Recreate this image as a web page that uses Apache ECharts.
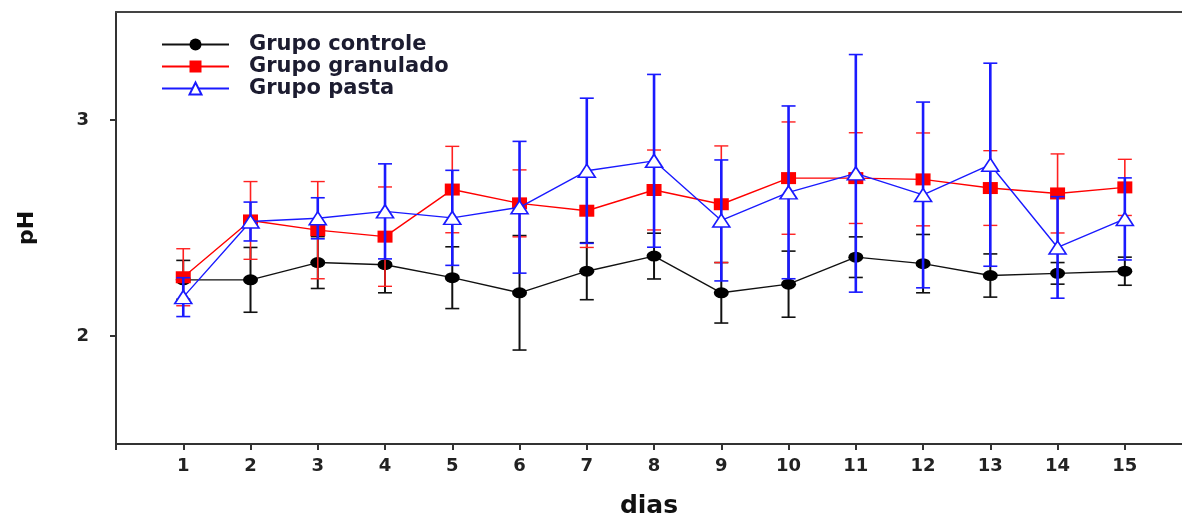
<!DOCTYPE html>
<html><head><meta charset="utf-8">
<script src="https://cdn.jsdelivr.net/npm/echarts@6/dist/echarts.min.js"></script>
<style>html,body{margin:0;padding:0;background:#fff}#c{width:1182px;height:514px}</style>
</head><body><div id="c"></div>
<script>
const days = [1,2,3,4,5,6,7,8,9,10,11,12,13,14,15];
const xTickValues = [0,1,2,3,4,5,6,7,8,9,10,11,12,13,14,15];
const xLabelValues = [1,2,3,4,5,6,7,8,9,10,11,12,13,14,15];
const yTickValues = [2,3];
const seriesNames = ['Grupo controle','Grupo granulado','Grupo pasta'];

const controleMean = [2.26,2.26,2.34,2.33,2.27,2.20,2.30,2.37,2.20,2.24,2.365,2.335,2.28,2.29,2.30];
const controleErr  = [0.09,0.15,0.12,0.13,0.143,0.265,0.132,0.106,0.14,0.153,0.094,0.135,0.10,0.05,0.065];
const granuladoMean = [2.272,2.535,2.49,2.46,2.678,2.614,2.58,2.676,2.61,2.731,2.731,2.725,2.685,2.66,2.688];
const granuladoErr  = [0.132,0.18,0.225,0.23,0.2,0.155,0.17,0.185,0.27,0.26,0.21,0.215,0.173,0.183,0.13];
const pastaMean = [2.18,2.53,2.545,2.577,2.547,2.596,2.765,2.811,2.535,2.665,2.753,2.653,2.793,2.41,2.542];
const pastaErr  = [0.09,0.09,0.095,0.22,0.22,0.305,0.336,0.4,0.28,0.4,0.55,0.43,0.47,0.235,0.19];

const chart = echarts.init(document.getElementById('c'));

function errSeries(name, mean, err, color, vWidth, hWidth, z) {
  return {
    type: 'custom', name: name + ' erro', z: z, silent: true,
    data: days.map((d, i) => [d, mean[i] - err[i], mean[i] + err[i]]),
    encode: { x: 0, y: [1, 2] },
    renderItem: function (params, api) {
      const x = api.value(0);
      const lo = api.coord([x, api.value(1)]);
      const hi = api.coord([x, api.value(2)]);
      const cw = 7;
      return { type: 'group', children: [
        { type: 'line', shape: { x1: lo[0], y1: lo[1], x2: hi[0], y2: hi[1] }, style: { stroke: color, lineWidth: vWidth } },
        { type: 'line', shape: { x1: lo[0] - cw, y1: lo[1], x2: lo[0] + cw, y2: lo[1] }, style: { stroke: color, lineWidth: hWidth } },
        { type: 'line', shape: { x1: hi[0] - cw, y1: hi[1], x2: hi[0] + cw, y2: hi[1] }, style: { stroke: color, lineWidth: hWidth } }
      ]};
    }
  };
}

function lineSeries(name, mean, color, symbol, size, fill, z) {
  return {
    type: 'line', name: name, z: z,
    data: days.map((d, i) => [d, mean[i]]),
    symbol: symbol, symbolSize: size, showAllSymbol: true,
    lineStyle: { color: color, width: 1.4 },
    itemStyle: { color: fill, borderColor: color, borderWidth: fill === '#ffffff' ? 1.6 : 0, opacity: 1 },
    emphasis: { disabled: true },
    animation: false
  };
}

const option = {
  animation: false,
  backgroundColor: '#ffffff',
  grid: { left: 116, right: 0, top: 12, bottom: 70, containLabel: false, outerBoundsMode: 'none' },
  legend: {
    data: seriesNames,
    orient: 'vertical', left: 161, top: 34, padding: 0,
    itemWidth: 67, itemHeight: 15, itemGap: 1,
    textStyle: { fontFamily: 'DejaVu Sans', fontWeight: 'bold', fontSize: 21, lineHeight: 16, color: '#1c1c30', padding: [0, 0, 0, 15] },
    selectedMode: false
  },
  xAxis: [{
    type: 'value', min: 0, max: 15.85, position: 'bottom',
    axisLine: { show: true, onZero: false, lineStyle: { color: '#333', width: 2 } },
    axisTick: { show: true, customValues: xTickValues, length: 6, lineStyle: { color: '#333', width: 2 } },
    axisLabel: { customValues: xLabelValues, margin: 13, fontFamily: 'DejaVu Sans', fontWeight: 'bold', fontSize: 18, color: '#222' },
    splitLine: { show: false },
    name: 'dias', nameLocation: 'middle', nameGap: 50,
    nameTextStyle: { fontFamily: 'DejaVu Sans', fontWeight: 'bold', fontSize: 25, color: '#111' }
  }, {
    type: 'value', min: 0, max: 15.85, position: 'top',
    axisLine: { show: true, onZero: false, lineStyle: { color: '#444', width: 2 } },
    axisTick: { show: false }, axisLabel: { show: false }, splitLine: { show: false }
  }],
  yAxis: {
    type: 'value', min: 1.5, max: 3.5,
    axisLine: { show: true, onZero: false, lineStyle: { color: '#333', width: 2 } },
    axisTick: { show: true, customValues: yTickValues, length: 6, lineStyle: { color: '#333', width: 2 } },
    axisLabel: { customValues: yTickValues, margin: 27, fontFamily: 'DejaVu Sans', fontWeight: 'bold', fontSize: 18, color: '#222' },
    splitLine: { show: false },
    name: 'pH', nameLocation: 'middle', nameRotate: 90, nameGap: 78,
    nameTextStyle: { fontFamily: 'DejaVu Sans', fontWeight: 'bold', fontSize: 22, color: '#111' }
  },
  series: [
    errSeries(seriesNames[0], controleMean, controleErr, '#111111', 2, 1.6, 1),
    lineSeries(seriesNames[0], controleMean, '#111111', 'circle', [15, 11], '#000000', 2),
    errSeries(seriesNames[1], granuladoMean, granuladoErr, '#ff2020', 1.6, 1.4, 3),
    lineSeries(seriesNames[1], granuladoMean, '#ff0000', 'rect', [15, 12], '#ff0000', 4),
    errSeries(seriesNames[2], pastaMean, pastaErr, '#1a1aff', 2.6, 1.6, 5),
    lineSeries(seriesNames[2], pastaMean, '#1a1aff', 'triangle', [17, 13], '#ffffff', 6)
  ]
};
chart.setOption(option);
</script>
</body></html>
